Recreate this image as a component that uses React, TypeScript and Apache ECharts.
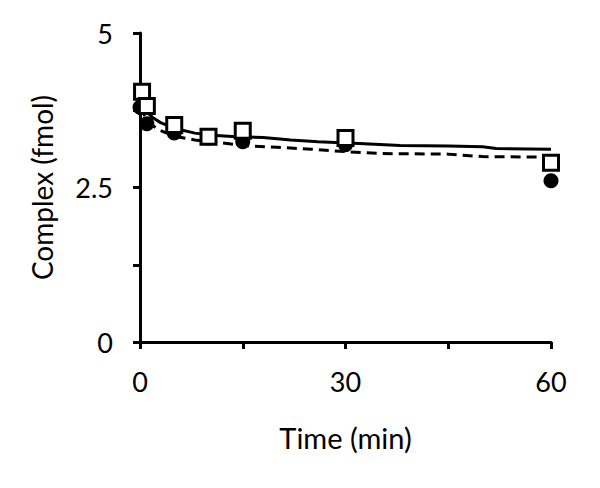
import React, { useEffect, useRef } from "react";
import * as echarts from "echarts";

const timeCircles = [0, 1, 5, 10, 15, 30, 60];
const valuesCircles = [3.8, 3.53, 3.38, 3.3, 3.24, 3.19, 2.61];
const timeSquares = [0.3, 1, 5, 10, 15, 30, 60];
const valuesSquares = [4.05, 3.82, 3.51, 3.32, 3.42, 3.3, 2.9];

const solidT = [0, 1, 2, 3, 5, 8, 10, 14, 18, 22, 26, 32, 38, 45, 50, 52, 60];
const solidY = [3.88, 3.72, 3.62, 3.55, 3.46, 3.38, 3.35, 3.32, 3.31, 3.27, 3.24, 3.21, 3.18, 3.17, 3.16, 3.13, 3.12];
const dashT = [0, 1, 2, 3, 5, 8, 12, 16, 20, 25, 30, 35, 45, 50, 60];
const dashY = [3.8, 3.6, 3.49, 3.42, 3.33, 3.27, 3.22, 3.17, 3.15, 3.12, 3.08, 3.05, 3.04, 3.0, 2.99];

const xTickLabels = ["0", "30", "60"];
const yTickLabels = ["0", "2.5", "5"];

const FONT = "Lato";

export default function App() {
  const ref = useRef<HTMLDivElement>(null);
  useEffect(() => {
    const chart = echarts.init(ref.current!, null, { renderer: "svg" });
    chart.setOption({
      animation: false,
      backgroundColor: "#fff",
      grid: { left: 140, top: 33, right: 49, bottom: 146 },
      xAxis: {
        type: "value",
        min: 0,
        max: 60,
        interval: 15,
        name: "Time (min)",
        nameLocation: "middle",
        nameGap: 81,
        nameTextStyle: { fontFamily: FONT, fontSize: 29, color: "#000" },
        axisLine: { lineStyle: { color: "#000", width: 3 } },
        axisTick: { show: true, length: 7, lineStyle: { color: "#000", width: 3 } },
        axisLabel: {
          margin: 26,
          fontFamily: FONT,
          fontSize: 27,
          color: "#000",
          formatter: (v: number) => (xTickLabels.includes(String(v)) ? String(v) : ""),
        },
        splitLine: { show: false },
      },
      yAxis: {
        type: "value",
        min: 0,
        max: 5,
        interval: 1.25,
        name: "Complex (fmol)",
        nameLocation: "middle",
        nameGap: 84,
        nameRotate: 90,
        nameTextStyle: { fontFamily: FONT, fontSize: 28, color: "#000" },
        axisLine: { show: true, lineStyle: { color: "#000", width: 3 } },
        axisTick: { show: true, length: 7, lineStyle: { color: "#000", width: 3 } },
        axisLabel: {
          margin: 27,
          fontFamily: FONT,
          fontSize: 27,
          color: "#000",
          formatter: (v: number) => (yTickLabels.includes(String(v)) ? String(v) : ""),
        },
        splitLine: { show: false },
      },
      series: [
        {
          type: "line",
          data: solidT.map((t, i) => [t, solidY[i]]),
          showSymbol: false,
          symbol: "none",
          lineStyle: { color: "#000", width: 3 },
          z: 1,
        },
        {
          type: "line",
          data: dashT.map((t, i) => [t, dashY[i]]),
          showSymbol: false,
          symbol: "none",
          lineStyle: { color: "#000", width: 3, type: [10, 6] },
          z: 1,
        },
        {
          type: "scatter",
          data: timeCircles.map((t, i) => [t, valuesCircles[i]]),
          symbol: "circle",
          symbolSize: 15,
          itemStyle: { color: "#000", opacity: 1 },
          z: 2,
        },
        {
          type: "scatter",
          data: timeSquares.map((t, i) => [t, valuesSquares[i]]),
          symbol: "rect",
          symbolSize: 15,
          itemStyle: { color: "#fff", borderColor: "#000", borderWidth: 3, opacity: 1 },
          z: 3,
        },
      ],
    });
    return () => chart.dispose();
  }, []);
  return <div ref={ref} style={{ width: 600, height: 488, position: "absolute", left: 0, top: 0 }} />;
}
